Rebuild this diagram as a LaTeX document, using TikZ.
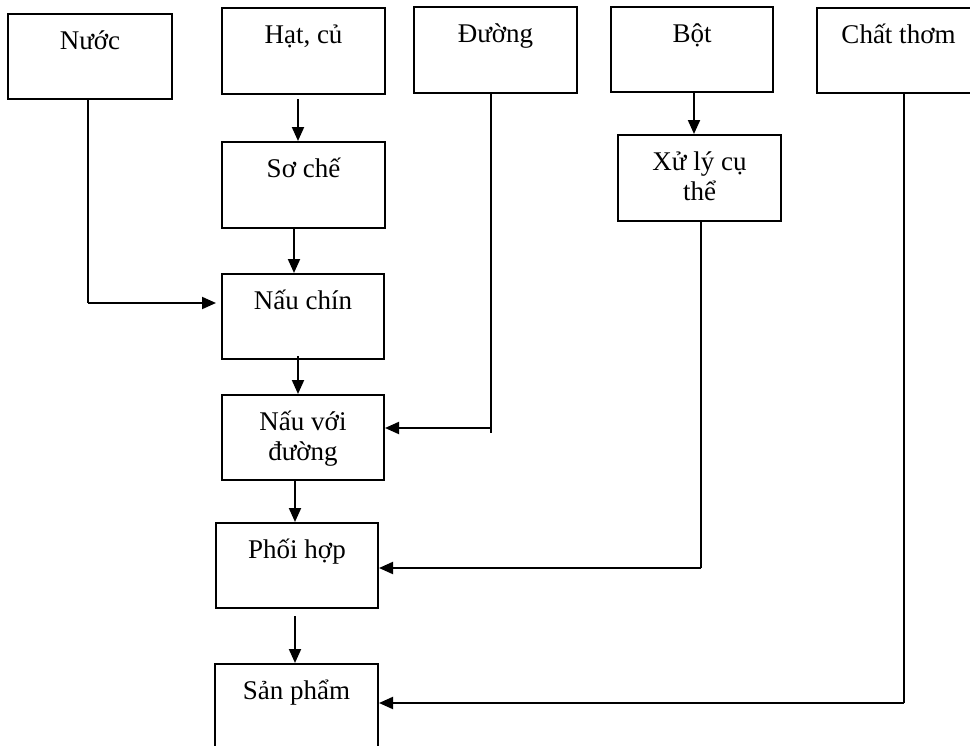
\documentclass[tikz,border=0pt]{standalone}
\usepackage{fontspec}
\setmainfont{Liberation Serif}
\usetikzlibrary{arrows.meta}

\begin{document}
\begin{tikzpicture}[x=1pt,y=-1pt,
  box/.style={draw, line width=2pt, inner sep=0pt},
  lbl/.style={anchor=north, inner sep=0pt, align=center,
              font=\fontsize{27}{30}\selectfont},
  flow/.style={line width=2pt, -{Triangle[length=14pt,width=12pt]}},
  feed/.style={line width=1.7pt}]

% page frame
\useasboundingbox (0,0) rectangle (970,745);
\clip (0,0) rectangle (970,745);
\fill[white] (0,0) rectangle (970,745);

% boxes
\node[box, minimum width=164pt, minimum height=85pt] (nuoc)     at (90,56.5)    {};
\node[box, minimum width=163pt, minimum height=86pt] (hat)      at (303.5,51)   {};
\node[box, minimum width=163pt, minimum height=86pt] (duong)    at (495.5,50)   {};
\node[box, minimum width=162pt, minimum height=85pt] (bot)      at (692,49.5)   {};
\node[box, minimum width=163pt, minimum height=85pt] (chat)     at (898.5,50.5) {};
\node[box, minimum width=163pt, minimum height=86pt] (soche)    at (303.5,185)  {};
\node[box, minimum width=163pt, minimum height=86pt] (xuly)     at (699.5,178)  {};
\node[box, minimum width=162pt, minimum height=85pt] (nauchin)  at (303,316.5)  {};
\node[box, minimum width=162pt, minimum height=85pt] (nauduong) at (303,437.5)  {};
\node[box, minimum width=162pt, minimum height=85pt] (phoihop)  at (297,565.5)  {};
\node[box, minimum width=163pt, minimum height=86pt] (sanpham)  at (296.5,707)  {};

% labels, first baseline about 36pt below each box top
\tikzset{lblpos/.style={yshift=-15.5pt}}
\node[lbl] (nuocT)     at ([lblpos]nuoc.north)     {\strut Nước};
\node[lbl] (hatT)      at ([lblpos]hat.north)      {\strut Hạt, củ};
\node[lbl] (duongT)    at ([lblpos]duong.north)    {\strut Đường};
\node[lbl] (botT)      at ([lblpos]bot.north)      {\strut Bột};
\node[lbl] (chatT)     at ([lblpos]chat.north)     {\strut Chất thơm};
\node[lbl] (socheT)    at ([lblpos]soche.north)    {\strut Sơ chế};
\node[lbl] (xulyT)     at ([lblpos]xuly.north)     {\strut Xử lý cụ\\\strut thể};
\node[lbl] (nauchinT)  at ([lblpos]nauchin.north)  {\strut Nấu chín};
\node[lbl] (nauduongT) at ([lblpos]nauduong.north) {\strut Nấu với\\\strut đường};
\node[lbl] (phoihopT)  at ([lblpos]phoihop.north)  {\strut Phối hợp};
\node[lbl] (sanphamT)  at ([lblpos]sanpham.north)  {\strut Sản phẩm};

% start points of the connectors
\coordinate (s1) at ([xshift=-5.5pt,yshift=-4pt]hat.south);
\coordinate (s2) at ([xshift=-9.5pt]soche.south);
\coordinate (s3) at ([xshift=-5pt,yshift=4pt]nauchin.south);
\coordinate (s4) at ([xshift=-8pt]nauduong.south);
\coordinate (s5) at ([xshift=-2pt,yshift=-7pt]phoihop.south);
\coordinate (s6) at ([xshift=2pt]bot.south);
\coordinate (nw) at ([xshift=-2pt]nuoc.south);
\coordinate (dw) at ([xshift=-4.5pt]duong.south);
\coordinate (xw) at ([xshift=1.5pt]xuly.south);
\coordinate (cw) at ([xshift=5.5pt]chat.south);

% end points on the side of the receiving boxes
\coordinate (nin) at ([xshift=-5pt,yshift=13.5pt]nauchin.west);
\coordinate (din) at ([yshift=9.5pt]nauduong.east);
\coordinate (xin) at ([yshift=-2.5pt]phoihop.east);
\coordinate (cin) at ([yshift=4pt]sanpham.east);

% main line
\draw[flow] (s1) -- (s1 |- soche.north);
\draw[flow] (s2) -- (s2 |- nauchin.north);
\draw[flow] (s3) -- (s3 |- nauduong.north);
\draw[flow] (s4) -- (s4 |- phoihop.north);
\draw[flow] (s5) -- (s5 |- sanpham.north);
\draw[flow] (s6) -- (s6 |- xuly.north);

% side feeds
\draw[feed] (nw) -- (nw |- nin);
\draw[flow] (nw |- nin) -- (nin);
\draw[feed] (dw) -- (dw |- din) -- ++(0,5);
\draw[flow] (dw |- din) -- (din);
\draw[feed] (xw) -- (xw |- xin);
\draw[flow] (xw |- xin) -- (xin);
\draw[feed] (cw) -- (cw |- cin);
\draw[flow] (cw |- cin) -- (cin);
\end{tikzpicture}
\end{document}
